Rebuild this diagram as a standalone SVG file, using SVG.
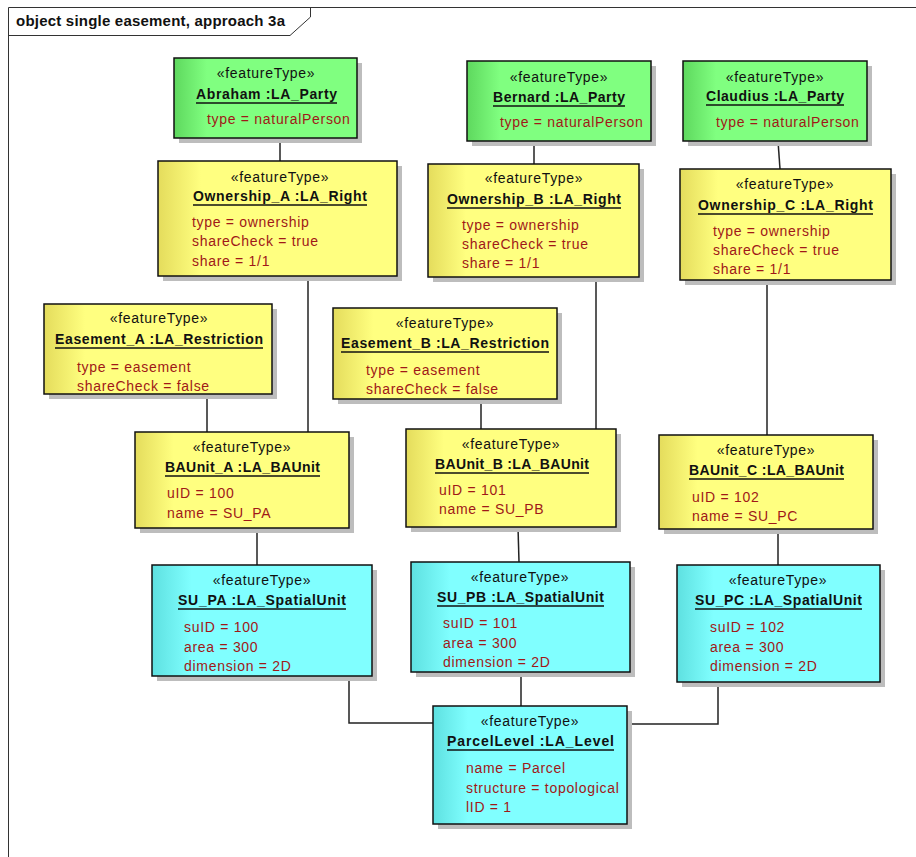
<svg xmlns="http://www.w3.org/2000/svg" width="916" height="857" viewBox="0 0 916 857">
<defs>
<linearGradient id="gG" x1="0" y1="0" x2="1" y2="0"><stop offset="0" stop-color="#5ED85E"/><stop offset="0.18" stop-color="#80FF80"/><stop offset="1" stop-color="#80FF80"/></linearGradient>
<linearGradient id="gY" x1="0" y1="0" x2="1" y2="0"><stop offset="0" stop-color="#E4DC5C"/><stop offset="0.18" stop-color="#FFFF80"/><stop offset="1" stop-color="#FFFF80"/></linearGradient>
<linearGradient id="gC" x1="0" y1="0" x2="1" y2="0"><stop offset="0" stop-color="#5EE0E0"/><stop offset="0.18" stop-color="#80FFFF"/><stop offset="1" stop-color="#80FFFF"/></linearGradient>
</defs>
<style>
text{font-family:"Liberation Sans",Arial,sans-serif;font-size:14px}
.st{text-anchor:middle;fill:#111;letter-spacing:0.7px}
.nm{text-anchor:middle;font-weight:bold;fill:#111}
.at{fill:#A01818;letter-spacing:0.7px}
.sh{fill:#BDBDBD}
.bx{stroke:#111;stroke-width:1.5}
.g{fill:url(#gG)}.y{fill:url(#gY)}.c{fill:url(#gC)}
.ul{stroke:#111;stroke-width:1.5}
.cn{fill:none;stroke:#222;stroke-width:1.5}
.fr{fill:none;stroke:#333;stroke-width:1}
.ti{font-size:15px;font-weight:bold;fill:#111}
</style>
<rect width="916" height="857" fill="#fff"/>
<g id="frame">
<path class="fr" d="M8.5,857 V7.5 H916"/>
<path class="fr" d="M8.5,35.5 H290 L310.5,17 V7.5"/>
<text class="ti" x="16" y="26" textLength="269">object single easement, approach 3a</text>
</g>
<g id="connectors">
<path class="cn" d="M280,138 V161"/>
<path class="cn" d="M534,141 V164"/>
<path class="cn" d="M778,141 L780,169"/>
<path class="cn" d="M308,276 V432"/>
<path class="cn" d="M207,394 V432"/>
<path class="cn" d="M596,277 V429"/>
<path class="cn" d="M481,399 V429"/>
<path class="cn" d="M767,280 V435"/>
<path class="cn" d="M257,528 V565"/>
<path class="cn" d="M518,527 L519,562"/>
<path class="cn" d="M778,529 V565"/>
<path class="cn" d="M349,676 V723 H433"/>
<path class="cn" d="M521,672 V706"/>
<path class="cn" d="M718,682 V724 H627"/>
</g>
<g id="abraham">
<rect class="sh" x="179" y="63" width="183" height="80"/>
<rect class="bx g" x="174" y="58" width="183" height="80"/>
<text class="st" x="266" y="78">«featureType»</text>
<text class="nm" x="266.5" y="99" textLength="141">Abraham :LA_Party</text>
<line class="ul" x1="196" y1="103" x2="337" y2="103"/>
<text class="at" x="207" y="124">type = naturalPerson</text>
</g>
<g id="bernard">
<rect class="sh" x="472" y="66" width="184" height="80"/>
<rect class="bx g" x="467" y="61" width="184" height="80"/>
<text class="st" x="559" y="82">«featureType»</text>
<text class="nm" x="559" y="102" textLength="132">Bernard :LA_Party</text>
<line class="ul" x1="493" y1="106" x2="625" y2="106"/>
<text class="at" x="500" y="127">type = naturalPerson</text>
</g>
<g id="claudius">
<rect class="sh" x="688" y="66" width="184" height="80"/>
<rect class="bx g" x="683" y="61" width="184" height="80"/>
<text class="st" x="775" y="82">«featureType»</text>
<text class="nm" x="775" y="101" textLength="138">Claudius :LA_Party</text>
<line class="ul" x1="706" y1="105" x2="844" y2="105"/>
<text class="at" x="716" y="127">type = naturalPerson</text>
</g>
<g id="ownership_a">
<rect class="sh" x="163" y="166" width="239" height="115"/>
<rect class="bx y" x="158" y="161" width="239" height="115"/>
<text class="st" x="280" y="182">«featureType»</text>
<text class="nm" x="280" y="201" textLength="174">Ownership_A :LA_Right</text>
<line class="ul" x1="193" y1="205" x2="367" y2="205"/>
<text class="at" x="192" y="227">type = ownership</text>
<text class="at" x="192" y="246">shareCheck = true</text>
<text class="at" x="192" y="266">share = 1/1</text>
</g>
<g id="ownership_b">
<rect class="sh" x="433" y="169" width="211" height="113"/>
<rect class="bx y" x="428" y="164" width="211" height="113"/>
<text class="st" x="534" y="183">«featureType»</text>
<text class="nm" x="534" y="204" textLength="174">Ownership_B :LA_Right</text>
<line class="ul" x1="447" y1="208" x2="621" y2="208"/>
<text class="at" x="462" y="230">type = ownership</text>
<text class="at" x="462" y="249">shareCheck = true</text>
<text class="at" x="462" y="268">share = 1/1</text>
</g>
<g id="ownership_c">
<rect class="sh" x="685" y="174" width="211" height="111"/>
<rect class="bx y" x="680" y="169" width="211" height="111"/>
<text class="st" x="785" y="189">«featureType»</text>
<text class="nm" x="785.5" y="210" textLength="175">Ownership_C :LA_Right</text>
<line class="ul" x1="698" y1="214" x2="873" y2="214"/>
<text class="at" x="713" y="236">type = ownership</text>
<text class="at" x="713" y="255">shareCheck = true</text>
<text class="at" x="713" y="274">share = 1/1</text>
</g>
<g id="easement_a">
<rect class="sh" x="49" y="309" width="228" height="90"/>
<rect class="bx y" x="44" y="304" width="228" height="90"/>
<text class="st" x="159" y="323">«featureType»</text>
<text class="nm" x="159" y="344" textLength="208">Easement_A :LA_Restriction</text>
<line class="ul" x1="55" y1="348" x2="263" y2="348"/>
<text class="at" x="77" y="372">type = easement</text>
<text class="at" x="77" y="391">shareCheck = false</text>
</g>
<g id="easement_b">
<rect class="sh" x="338" y="313" width="224" height="91"/>
<rect class="bx y" x="333" y="308" width="224" height="91"/>
<text class="st" x="445" y="328">«featureType»</text>
<text class="nm" x="445" y="348" textLength="208">Easement_B :LA_Restriction</text>
<line class="ul" x1="341" y1="352" x2="549" y2="352"/>
<text class="at" x="366" y="375">type = easement</text>
<text class="at" x="366" y="394">shareCheck = false</text>
</g>
<g id="baunit_a">
<rect class="sh" x="140" y="437" width="214" height="96"/>
<rect class="bx y" x="135" y="432" width="214" height="96"/>
<text class="st" x="242" y="452">«featureType»</text>
<text class="nm" x="242.5" y="472" textLength="155">BAUnit_A :LA_BAUnit</text>
<line class="ul" x1="165" y1="476" x2="320" y2="476"/>
<text class="at" x="167" y="498">uID = 100</text>
<text class="at" x="167" y="518">name = SU_PA</text>
</g>
<g id="baunit_b">
<rect class="sh" x="411" y="434" width="210" height="98"/>
<rect class="bx y" x="406" y="429" width="210" height="98"/>
<text class="st" x="511" y="449">«featureType»</text>
<text class="nm" x="512" y="469" textLength="154">BAUnit_B :LA_BAUnit</text>
<line class="ul" x1="435" y1="473" x2="589" y2="473"/>
<text class="at" x="439" y="495">uID = 101</text>
<text class="at" x="439" y="514">name = SU_PB</text>
</g>
<g id="baunit_c">
<rect class="sh" x="664" y="440" width="214" height="94"/>
<rect class="bx y" x="659" y="435" width="214" height="94"/>
<text class="st" x="766" y="455">«featureType»</text>
<text class="nm" x="766.5" y="475" textLength="155">BAUnit_C :LA_BAUnit</text>
<line class="ul" x1="689" y1="479" x2="844" y2="479"/>
<text class="at" x="692" y="502">uID = 102</text>
<text class="at" x="692" y="521">name = SU_PC</text>
</g>
<g id="su_pa">
<rect class="sh" x="157" y="570" width="220" height="111"/>
<rect class="bx c" x="152" y="565" width="220" height="111"/>
<text class="st" x="262" y="585">«featureType»</text>
<text class="nm" x="262" y="605" textLength="168">SU_PA :LA_SpatialUnit</text>
<line class="ul" x1="178" y1="609" x2="346" y2="609"/>
<text class="at" x="184" y="632">suID = 100</text>
<text class="at" x="184" y="652">area = 300</text>
<text class="at" x="184" y="671">dimension = 2D</text>
</g>
<g id="su_pb">
<rect class="sh" x="416" y="567" width="219" height="110"/>
<rect class="bx c" x="411" y="562" width="219" height="110"/>
<text class="st" x="520" y="582">«featureType»</text>
<text class="nm" x="520.5" y="602" textLength="167">SU_PB :LA_SpatialUnit</text>
<line class="ul" x1="437" y1="606" x2="604" y2="606"/>
<text class="at" x="443" y="628">suID = 101</text>
<text class="at" x="443" y="648">area = 300</text>
<text class="at" x="443" y="667">dimension = 2D</text>
</g>
<g id="su_pc">
<rect class="sh" x="682" y="570" width="203" height="117"/>
<rect class="bx c" x="677" y="565" width="203" height="117"/>
<text class="st" x="778" y="585">«featureType»</text>
<text class="nm" x="778.5" y="605" textLength="167">SU_PC :LA_SpatialUnit</text>
<line class="ul" x1="695" y1="609" x2="862" y2="609"/>
<text class="at" x="710" y="632">suID = 102</text>
<text class="at" x="710" y="652">area = 300</text>
<text class="at" x="710" y="671">dimension = 2D</text>
</g>
<g id="parcellevel">
<rect class="sh" x="438" y="711" width="194" height="118"/>
<rect class="bx c" x="433" y="706" width="194" height="118"/>
<text class="st" x="530" y="726">«featureType»</text>
<text class="nm" x="530.5" y="746" textLength="167">ParcelLevel :LA_Level</text>
<line class="ul" x1="447" y1="750" x2="614" y2="750"/>
<text class="at" x="466" y="773">name = Parcel</text>
<text class="at" x="466" y="793">structure = topological</text>
<text class="at" x="466" y="812">lID = 1</text>
</g>
</svg>
